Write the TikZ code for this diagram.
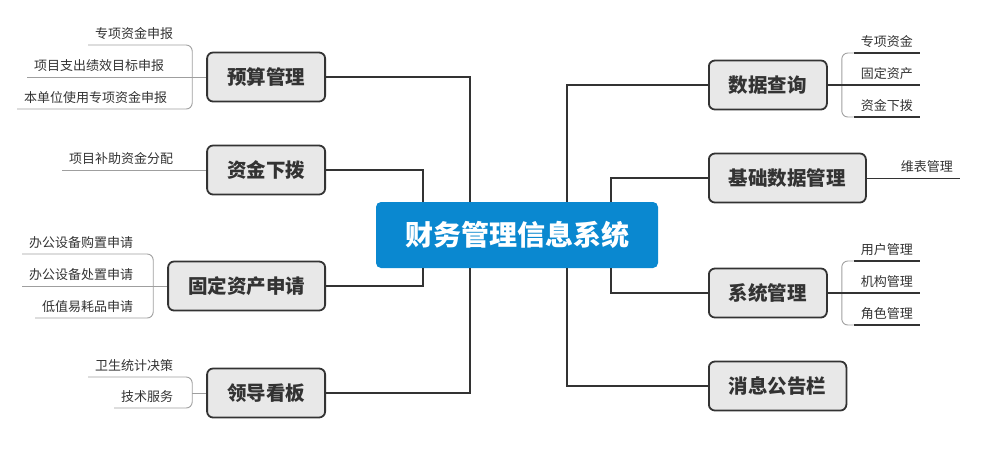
\documentclass[tikz,border=0pt]{standalone}
\usepackage{fontspec}
\newfontfamily\cjk{Noto Sans CJK SC}
\usepackage{xcolor}
\usepackage{tikz}
\usetikzlibrary{positioning}
\definecolor{hubblue}{HTML}{0A88D0}
\definecolor{catgray}{HTML}{E8E8E8}
\definecolor{inkgray}{HTML}{333333}

\begin{document}
\begin{tikzpicture}[x=1pt, y=-1pt,
    hub/.style={fill=hubblue, rounded corners=5pt, text=white, font=\cjk\bfseries\fontsize{28}{30}\selectfont, minimum width=282pt, minimum height=66pt},
    cat/.style={draw=inkgray, line width=1.8pt, fill=catgray, rounded corners=6pt, text=inkgray, font=\cjk\bfseries\fontsize{19.5}{22}\selectfont, inner xsep=20pt, minimum height=49pt},
    leaf/.style={text=inkgray, font=\cjk\fontsize{13}{15}\selectfont, inner xsep=7pt, inner ysep=5pt},
    link/.style={draw=inkgray, line width=1.8pt},
    twig/.style={draw=gray!75, line width=0.9pt},
    twigdark/.style={draw=inkgray, line width=1.6pt},
    brace/.style={draw=gray!75, line width=0.9pt, rounded corners=6pt}]
        \useasboundingbox (0,0) rectangle (986,456);
        % root and main branches
        \node[hub] (hub) at (517,235) {财务管理信息系统};
        \node[cat, anchor=east] (ysgl) at (326,77) {预算管理};
        \node[cat, anchor=east] (zjxb) at (326,170) {资金下拨};
        \node[cat, anchor=east] (gdzc) at (326,286) {固定资产申请};
        \node[cat, anchor=east] (ldkb) at (326,393) {领导看板};
        \node[cat, anchor=west] (sjcx) at (708,85) {数据查询};
        \node[cat, anchor=west] (jcsj) at (708,178) {基础数据管理};
        \node[cat, anchor=west] (xtgl) at (708,293) {系统管理};
        \node[cat, anchor=west] (xxgg) at (708,386) {消息公告栏};
        \draw[link] (ysgl.east) -| ([xshift=94pt]hub.north west);
        \draw[link] (zjxb.east) -| ([xshift=47pt]hub.north west);
        \draw[link] (gdzc.east) -| ([xshift=47pt]hub.south west);
        \draw[link] (ldkb.east) -| ([xshift=94pt]hub.south west);
        \draw[link] (sjcx.west) -| ([xshift=-91pt]hub.north east);
        \draw[link] (jcsj.west) -| ([xshift=-47pt]hub.north east);
        \draw[link] (xtgl.west) -| ([xshift=-47pt]hub.south east);
        \draw[link] (xxgg.west) -| ([xshift=-91pt]hub.south east);
        % left leaves
        \node[leaf, anchor=south west] (ys1) at (88,45) {专项资金申报};
        \node[leaf, anchor=south west] (ys2) at (27,77) {项目支出绩效目标申报};
        \node[leaf, anchor=south west] (ys3) at (17,109) {本单位使用专项资金申报};
        \coordinate[left=14pt of ysgl.west] (ysb);
        \draw[brace] (ys1.south west) -- (ys1.south west -| ysb) -- (ys3.south west -| ysb) -- (ys3.south west);
        \draw[twig] (ys2.south west) -- (ysgl.west);
        \node[leaf, anchor=south west] (zj1) at (62,170) {项目补助资金分配};
        \draw[twig] (zj1.south west) -- (zjxb.west);
        \node[leaf, anchor=south west] (gd1) at (22,254) {办公设备购置申请};
        \node[leaf, anchor=south west] (gd2) at (22,286) {办公设备处置申请};
        \node[leaf, anchor=south west] (gd3) at (35,318) {低值易耗品申请};
        \coordinate[left=14pt of gdzc.west] (gdb);
        \draw[brace] (gd1.south west) -- (gd1.south west -| gdb) -- (gd3.south west -| gdb) -- (gd3.south west);
        \draw[twig] (gd2.south west) -- (gdzc.west);
        \node[leaf, anchor=south west] (ld1) at (88,377) {卫生统计决策};
        \node[leaf, anchor=south west] (ld2) at (114,408) {技术服务};
        \coordinate[left=14pt of ldkb.west] (ldb);
        \draw[brace] (ld1.south west) -- (ld1.south west -| ldb) -- (ld2.south west -| ldb) -- (ld2.south west);
        \draw[twig] (ldb) -- (ldkb.west);
        % right leaves
        \node[leaf, anchor=south east] (sj1) at (920,53) {专项资金};
        \node[leaf, anchor=south east] (sj2) at (920,85) {固定资产};
        \node[leaf, anchor=south east] (sj3) at (920,117) {资金下拨};
        \coordinate[right=14pt of sjcx.east] (sjb);
        \draw[brace] (sj1.south west) -- (sj1.south west -| sjb) -- (sj3.south west -| sjb) -- (sj3.south west);
        \draw[twigdark] (sjcx.east) -- (sj2.south west);
        \node[leaf, anchor=south east] (jc1) at (960,178) {维表管理};
        \draw[draw=inkgray, line width=1pt] (jcsj.east) -- (jc1.south east);
        \node[leaf, anchor=south east] (xt1) at (920,261) {用户管理};
        \node[leaf, anchor=south east] (xt2) at (920,293) {机构管理};
        \node[leaf, anchor=south east] (xt3) at (920,325) {角色管理};
        \coordinate[right=14pt of xtgl.east] (xtb);
        \draw[brace] (xt1.south west) -- (xt1.south west -| xtb) -- (xt3.south west -| xtb) -- (xt3.south west);
        \draw[twigdark] (xtgl.east) -- (xt2.south west);
        \foreach \n in {sj1,sj2,sj3,xt1,xt2,xt3} { \draw[twigdark] (\n.south west) -- (\n.south east); }
    \end{tikzpicture}
\end{document}
